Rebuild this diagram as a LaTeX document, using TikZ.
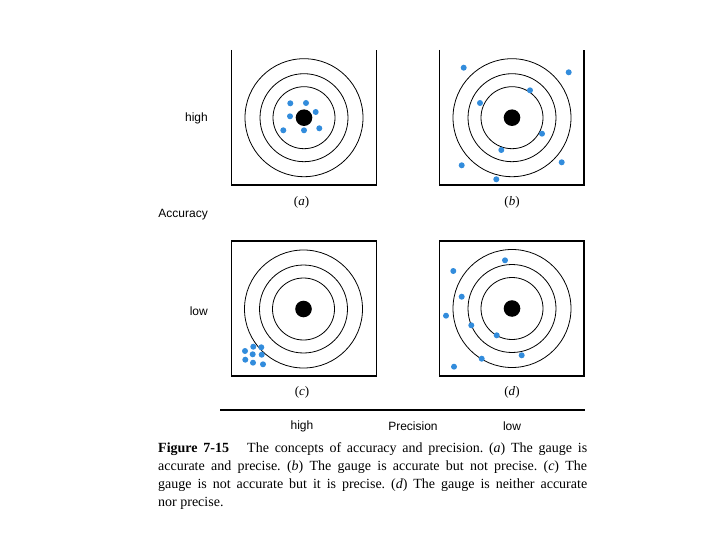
\documentclass[tikz,border=0pt]{standalone}
\usepackage{fontspec}
\setmainfont{Liberation Serif}
\setsansfont{Liberation Sans}
\usetikzlibrary{positioning}
\definecolor{hitblue}{RGB}{50,140,220}
\tikzset{
  ring/.style={draw=black, line width=0.8pt},
  frame/.style={draw=black, line width=1.1pt},
  axlabel/.style={font=\fontsize{12}{14}\selectfont\sffamily, inner sep=0pt},
  panlabel/.style={font=\fontsize{13}{14}\selectfont, inner sep=0pt},
  caption/.style={font=\fontsize{14}{18.3}\selectfont\frenchspacing, inner sep=0pt,
                  text width=429pt, align=justify},
}

\begin{document}
\begin{tikzpicture}[x=1pt, y=-1pt]
\useasboundingbox (0,0) rectangle (720,540);

% target centres
\coordinate (ca) at (304,117.7);
\coordinate (cb) at (512,117.7);
\coordinate (cc) at (303.5,309);
\coordinate (cd) at (512,308.5);

% frames (top panels are open at the top)
\draw[frame] (231.7,50) -- (231.7,185) -- (376.7,185) -- (376.7,50);
\draw[frame] (439.3,50) -- (439.3,185) -- (584,185) -- (584,50);
\draw[frame] (231.7,241) rectangle (376.7,376);
\draw[frame] (439.3,241) rectangle (584,376);

% rings and bull's eyes
\foreach \c in {ca,cb,cc,cd}{
  \foreach \r in {31,44,59}
    \draw[ring] (\c) circle[radius=\r];
  \fill (\c) circle[radius=8.3];
}

% hits
\foreach \p in {(290.3,103.3),(306,103),(315.7,112),(290,116.3),
                (283.3,130.3),(304,130.3),(319.3,128.3),
                (463.7,67.7),(568.7,72.3),(530,90.3),(480,103),(542,133.7),
                (501.3,150),(461.7,165.3),(561.7,162.3),(496.3,179.3),
                (253.3,346.7),(261.3,347.3),(245,351),(252.7,354.3),
                (261.7,354.7),(245.3,359.7),(253,362.7),(263,364.3),
                (505,260.3),(453.3,271),(461.7,296.7),(446,315.7),
                (471.3,325.3),(496.7,335.3),(521.7,355.3),(481.7,358.7),
                (454,366.7)}
  \fill[hitblue] \p circle[radius=3];

% panel labels
\node[panlabel] (la) at (301.5,202.5) {(\textit{a})};
\node[panlabel] (lb) at (512,202.5) {(\textit{b})};
\node[panlabel] (lc) at (302,392) {(\textit{c})};
\node[panlabel] (ld) at (512,392) {(\textit{d})};

% accuracy axis
\node[axlabel, anchor=east] (acchigh) at (208,118) {high};
\node[axlabel, anchor=east] (acc) at (208,215) {Accuracy};
\node[axlabel, anchor=east] (acclow) at (208,311) {low};

% precision axis
\coordinate (pl) at (220,410);
\coordinate (pr) at (585,410);
\draw[frame] (pl) -- (pr);
\node[axlabel] (prehigh) at (302,426) {high};
\node[axlabel] (pre) at (413,426) {Precision};
\node[axlabel] (prelow) at (512,426) {low};

% caption
\node[caption, anchor=north west] (cap) at (158,442)
  {\textbf{Figure 7-15}\hspace{1.3em}The concepts of accuracy and precision. (\textit{a}) The gauge is\linebreak
   accurate and precise. (\textit{b}) The gauge is accurate but not precise. (\textit{c}) The\linebreak
   gauge is not accurate but it is precise. (\textit{d}) The gauge is neither accurate\linebreak
   nor precise.};

\end{tikzpicture}
\end{document}
